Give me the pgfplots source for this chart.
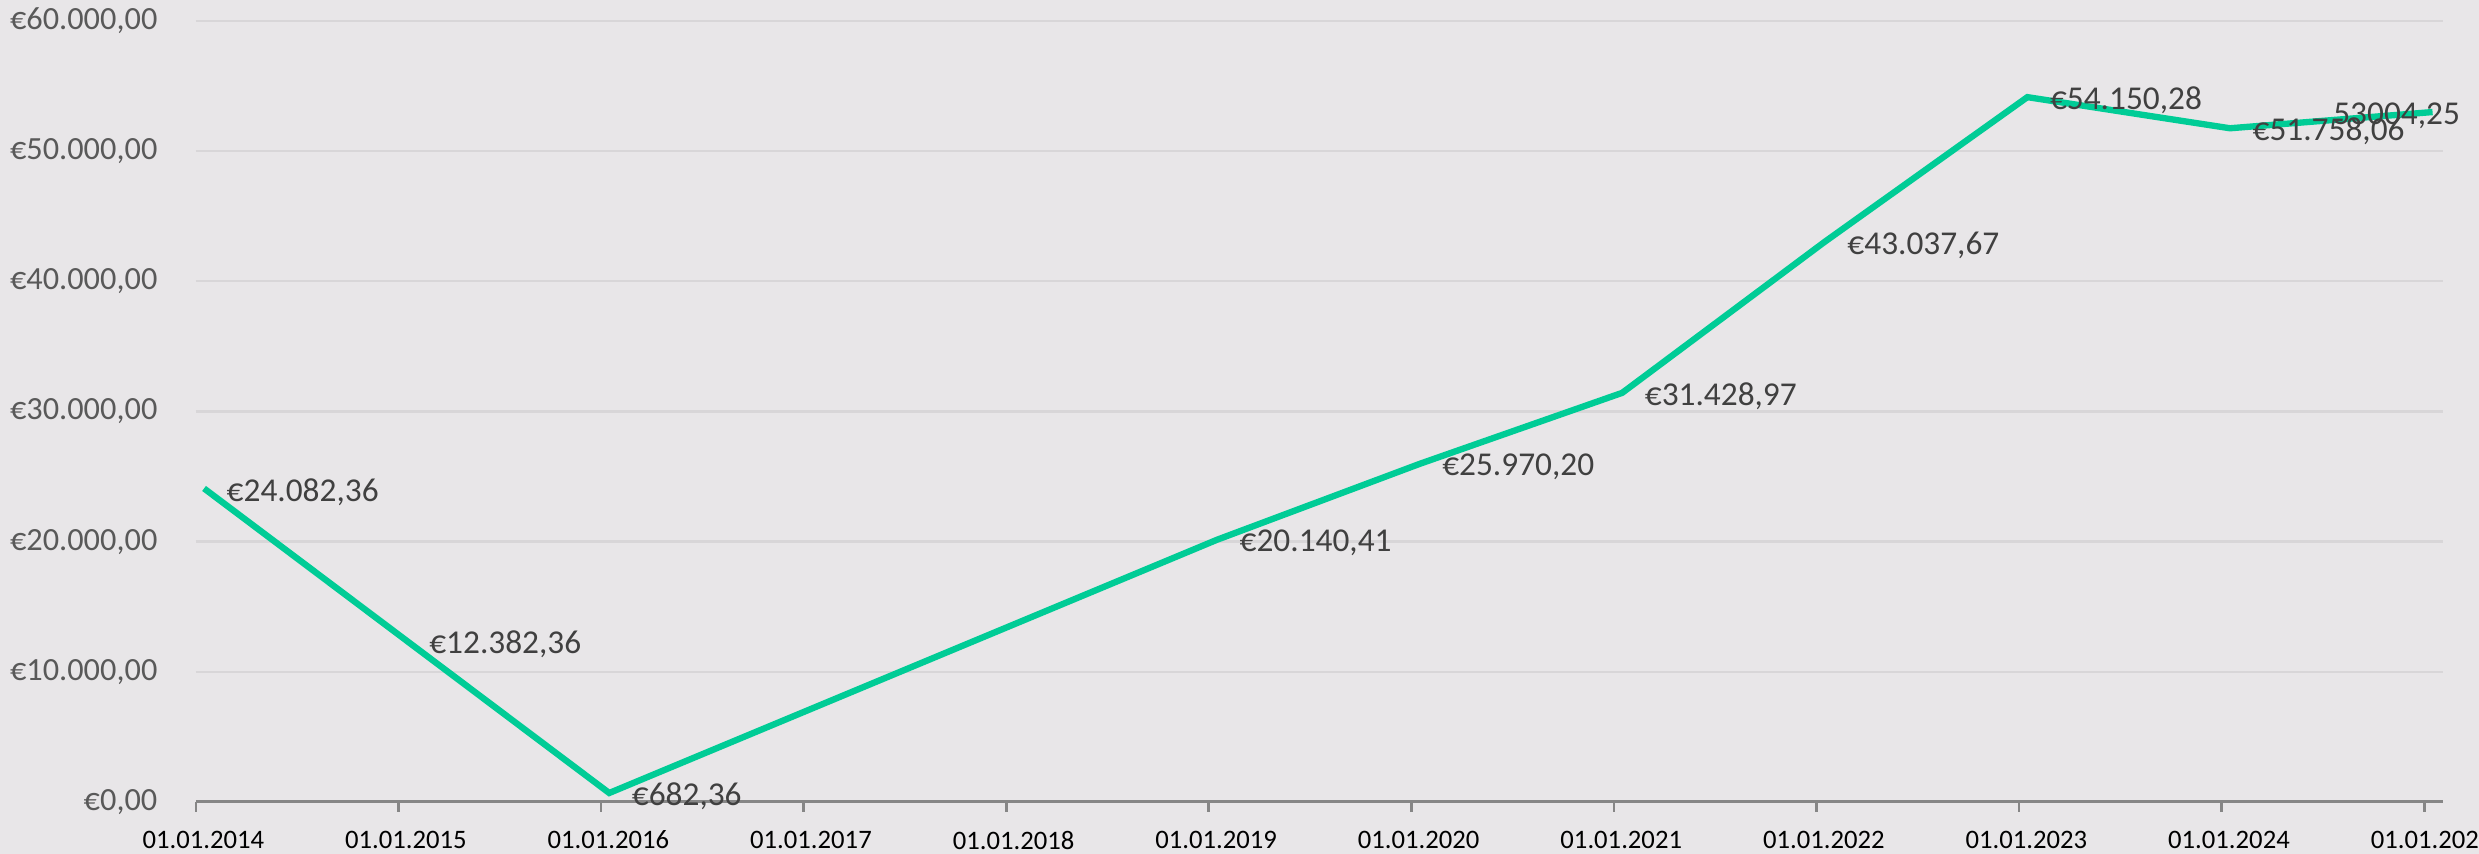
\documentclass[border=0pt]{standalone}
\usepackage{pgfplots}
\pgfplotsset{compat=1.18}
\usepackage{fontspec}
\setmainfont{Carlito}
\definecolor{bgc}{RGB}{232,230,232}
\definecolor{linec}{RGB}{0,204,150}
\definecolor{gridc}{RGB}{216,214,216}
\definecolor{ylab}{RGB}{89,89,89}
\definecolor{dlab}{RGB}{64,64,64}
\definecolor{axc}{RGB}{134,134,134}
\begin{document}
\begin{tikzpicture}
\fill[bgc] (-58.8pt,-15.6pt) rectangle (685pt,240.6pt);
\begin{axis}[
  at={(0,0)}, anchor=south west,
  scale only axis, width=674.1pt, height=234.3pt,
  xmin=2014, xmax=2025.09, ymin=0, ymax=60000,
  axis x line=bottom, axis y line=left,
  x axis line style={-, color=axc, line width=0.9pt},
  y axis line style={draw=none},
  ytick={0,10000,...,60000},
  scaled y ticks=false,
  xtick={2014,...,2025},
  xticklabels={01.01.2014,01.01.2015,01.01.2016,01.01.2017,01.01.2018,01.01.2019,01.01.2020,01.01.2021,01.01.2022,01.01.2023,01.01.2024,01.01.2025},
  ymajorgrids, grid style={gridc, line width=0.7pt},
  ytick style={draw=none},
  xtick style={color=axc, line width=0.8pt},
  major tick length=3pt, tick align=outside,
  /pgf/number format/assume math mode=true,
  yticklabel={€\pgfmathprintnumber[fixed, fixed zerofill, precision=2, use comma, 1000 sep={.}]{\tick}\rule{8.4pt}{0pt}},
  yticklabel style={font=\fontsize{9.7}{12}\selectfont, text=ylab, inner sep=0pt, anchor=east},
  xticklabel style={font=\fontsize{8}{9}\selectfont, text=black, inner sep=0pt, anchor=north, yshift=-5.5pt, xshift=2.2pt},
  clip=false,
]
\addplot[linec, line width=1.9pt] table {
x y
2014.04 24082.36
2015.04 12382.36
2016.04 682.36
2019.04 20140.41
2020.04 25970.20
2021.04 31428.97
2022.04 43037.67
2023.04 54150.28
2024.04 51758.06
2025.04 53004.25
};
\addplot[draw=none, point meta=explicit symbolic,
  nodes near coords={\pgfplotspointmeta},
  nodes near coords style={anchor=west, inner sep=0pt, xshift=6.6pt, yshift=-1pt, text=dlab, font=\fontsize{10}{12}\selectfont}]
 table[meta=l] {
x y l
2014.04 24082.36 €24.082,36
2015.04 12382.36 €12.382,36
2016.04 682.36 €682,36
2019.04 20140.41 €20.140,41
2020.04 25970.20 €25.970,20
2021.04 31428.97 €31.428,97
2022.04 43037.67 €43.037,67
2023.04 54150.28 €54.150,28
2024.04 51758.06 €51.758,06
};
\addplot[draw=none, point meta=explicit symbolic,
  nodes near coords={\pgfplotspointmeta},
  nodes near coords style={anchor=east, inner sep=0pt, xshift=8.4pt, yshift=-1pt, text=dlab, font=\fontsize{10}{12}\selectfont}]
 table[meta=l] {
x y l
2025.04 53004.25 53004,25
};
\end{axis}
\pgfresetboundingbox
\path[use as bounding box] (-58.8pt,-15.6pt) rectangle (685pt,240.6pt);
\end{tikzpicture}
\end{document}
